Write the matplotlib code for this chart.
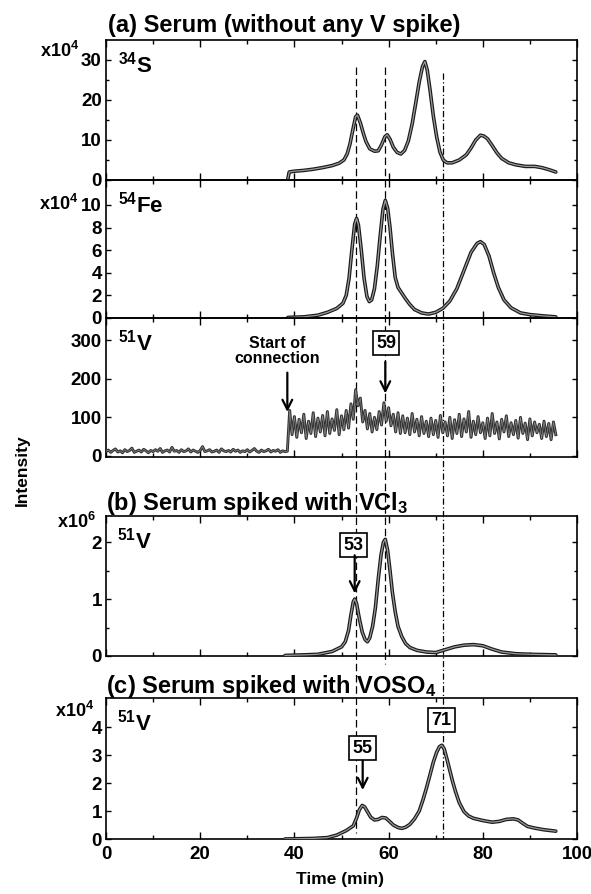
import numpy as np
import matplotlib
matplotlib.use('Agg')
import matplotlib.pyplot as plt
from matplotlib.lines import Line2D
from matplotlib.ticker import MultipleLocator, FixedLocator
from matplotlib.transforms import blended_transform_factory

plt.rcParams['font.family'] = ['Liberation Sans', 'DejaVu Sans']
plt.rcParams['font.weight'] = 'bold'
plt.rcParams['mathtext.fontset'] = 'custom'
plt.rcParams['mathtext.rm'] = 'Liberation Sans:bold'
plt.rcParams['mathtext.bf'] = 'Liberation Sans:bold'
plt.rcParams['mathtext.it'] = 'Liberation Sans:bold'

# (a) 34S, x10^4
s_time = [38.6, 38.9, 40, 42, 44, 46, 48, 49.5, 50.5, 51.2, 51.8, 52.4, 53.0, 53.4, 54.0, 54.6,
          55.2, 56.0, 57.0, 57.8, 58.5, 59.2, 59.7, 60.3, 61.0, 61.8, 62.6, 63.4, 64.2, 65.0,
          65.8, 66.5, 67.2, 67.7, 68.2, 68.8, 69.5, 70.2, 70.9, 71.6, 72.4, 73.5, 75.0, 76.5,
          77.5, 78.5, 79.5, 80.2, 81.0, 82.0, 83.0, 84.0, 85.5, 87.0, 89.0, 91.0, 92.5, 94.0, 95.5]
s_val = [0.2, 2.0, 2.2, 2.4, 2.7, 3.1, 3.6, 4.2, 5.0, 6.5, 9.0, 12.5, 15.8, 16.2, 14.3, 11.8,
         9.6, 7.8, 7.2, 7.3, 8.8, 10.8, 11.3, 10.2, 8.2, 6.9, 6.5, 7.4, 9.8, 14.0,
         19.5, 24.5, 28.4, 29.6, 27.5, 22.5, 16.0, 10.8, 7.0, 5.0, 4.3, 4.3, 5.0, 6.3,
         8.0, 10.0, 11.2, 11.0, 10.3, 8.6, 6.8, 5.4, 4.3, 3.8, 3.4, 3.4, 3.1, 2.6, 2.0]

# (a) 54Fe, x10^4
fe_time = [38.6, 42, 45, 47, 49, 50.3, 51.0, 51.6, 52.2, 52.8, 53.2, 53.6, 54.2, 54.8, 55.4,
           55.9, 56.4, 57.0, 57.6, 58.2, 58.8, 59.3, 59.8, 60.3, 60.8, 61.4, 62.0, 62.8, 63.6,
           64.5, 65.5, 67.0, 68.5, 70.0, 71.5, 73.0, 74.5, 76.0, 77.5, 78.8, 79.5, 80.3, 81.3,
           82.3, 83.3, 84.5, 86.0, 88.0, 90.0, 92.5, 95.5]
fe_val = [0.05, 0.1, 0.25, 0.5, 0.85, 1.3, 2.0, 3.5, 6.0, 8.3, 8.8, 8.2, 6.0, 3.5, 1.9,
          1.45, 1.6, 2.6, 4.6, 7.2, 9.6, 10.4, 9.7, 8.0, 5.8, 3.6, 2.7, 2.2, 1.7,
          1.2, 0.75, 0.45, 0.35, 0.5, 0.85, 1.5, 2.6, 4.2, 5.8, 6.6, 6.75, 6.5, 5.5,
          4.0, 2.7, 1.6, 0.9, 0.45, 0.3, 0.2, 0.1]

# (a) 51V, counts, sampled every 0.5 min
v_time = np.arange(0, 96, 0.5)
v_val = [12, 15, 9, 14, 18, 10, 13, 8, 16, 11, 14, 20, 9, 12, 15, 10, 17, 13, 8, 14,
         11, 16, 12, 19, 9, 13, 15, 10, 22, 12, 14, 9, 16, 11, 13, 18, 10, 15, 12, 9,
         14, 24, 11, 13, 16, 10, 12, 15, 9, 18, 13, 11, 14, 10, 17, 12, 15, 9, 13, 11,
         16, 10, 14, 19, 12, 9, 15, 11, 13, 17, 10, 14, 12, 16, 9, 13, 11, 12,
         118, 55, 102, 48, 95, 60, 108, 45, 90, 58, 112, 50,
         98, 62, 105, 52, 115, 58, 96, 66, 120, 55, 104, 68,
         118, 72, 135, 95, 172, 130,
         150, 88, 118, 70, 110, 62,
         100, 68, 115, 80, 138, 90,
         125, 78, 108, 62, 112, 58,
         104, 60, 98, 55, 110, 62, 95, 52, 102, 58, 90, 50,
         98, 55, 92, 48, 105, 60, 88, 52, 100, 45, 94, 58,
         108, 50, 96, 62, 115, 48, 90, 55, 102, 60, 86, 45,
         98, 52, 110, 58, 88, 44, 95, 62, 104, 50, 86, 55,
         92, 46, 100, 58, 85, 42, 96, 52, 88, 60, 82, 45,
         90, 50, 84, 42, 88, 55]

# (b) VCl3 spike, 51V x10^6
b_time = [38.0, 42, 45, 48, 50, 50.8, 51.5, 52.0, 52.5, 52.8, 53.2, 53.8, 54.4, 55.0, 55.5,
          56.0, 56.6, 57.2, 57.8, 58.4, 58.9, 59.3, 59.8, 60.3, 60.8, 61.4, 62.0, 62.8, 63.6,
          64.5, 66.0, 68.0, 70.0, 72.0, 74.0, 76.0, 78.0, 80.0, 82.0, 84.0, 87.0, 90.0, 95.5]
b_val = [0.01, 0.02, 0.03, 0.08, 0.16, 0.25, 0.45, 0.72, 0.95, 1.0, 0.92, 0.65, 0.42, 0.29, 0.25,
         0.32, 0.52, 0.85, 1.35, 1.78, 2.0, 2.05, 1.85, 1.5, 1.12, 0.78, 0.52, 0.34, 0.22,
         0.15, 0.1, 0.07, 0.06, 0.11, 0.16, 0.19, 0.2, 0.18, 0.12, 0.07, 0.04, 0.03, 0.02]

# (c) VOSO4 spike, 51V x10^4
c_time = [38.0, 44, 47, 49, 51, 52.5, 53.2, 53.8, 54.4, 54.9, 55.5, 56.2, 57.0, 57.8, 58.6,
          59.4, 60.2, 61.0, 62.0, 62.8, 63.6, 64.5, 65.5, 66.5, 67.3, 68.0, 68.8, 69.5, 70.2,
          70.8, 71.3, 71.8, 72.4, 73.0, 73.6, 74.2, 75.0, 76.0, 77.0, 78.0, 80.0, 82.0, 83.5,
          85.0, 86.5, 87.5, 88.5, 89.5, 91.0, 93.0, 95.5]
c_val = [0.0, 0.02, 0.05, 0.14, 0.3, 0.47, 0.75, 1.05, 1.2, 1.15, 0.98, 0.78, 0.68, 0.7, 0.77,
         0.75, 0.63, 0.5, 0.41, 0.38, 0.42, 0.52, 0.72, 1.0, 1.4, 1.8, 2.3, 2.75, 3.1,
         3.3, 3.35, 3.22, 2.85, 2.45, 2.05, 1.7, 1.3, 0.98, 0.82, 0.74, 0.66, 0.6, 0.63,
         0.7, 0.72, 0.68, 0.56, 0.45, 0.39, 0.33, 0.28]

marker_times = [53.0, 59.3, 71.5]

W, H = 591, 894
fig = plt.figure(figsize=(W / 100, H / 100), dpi=100)


def add_ax(top, bottom):
    ax = fig.add_axes([106 / W, 1 - bottom / H, 471 / W, (bottom - top) / H])
    ax.patch.set_visible(False)
    return ax


ax_s = add_ax(40, 180)
ax_fe = add_ax(180, 318)
ax_v = add_ax(318, 457)
ax_b = add_ax(516, 656)
ax_c = add_ax(698, 839)
axes = [ax_s, ax_fe, ax_v, ax_b, ax_c]


def trace(ax, x, y):
    ax.plot(x, y, color='#1a1a1a', lw=2.6, solid_capstyle='round', zorder=3)
    ax.plot(x, y, color='#9a9a9a', lw=0.9, zorder=4)


trace(ax_s, s_time, s_val)
trace(ax_fe, fe_time, fe_val)
ax_v.plot(v_time, v_val, color='#333333', lw=2.1, zorder=3)
ax_v.plot(v_time, v_val, color='#8a8a8a', lw=0.5, zorder=4)
trace(ax_b, b_time, b_val)
trace(ax_c, c_time, c_val)

ax_s.set_ylim(0, 35)
ax_fe.set_ylim(0, 12.2)
ax_v.set_ylim(-3, 358)
ax_b.set_ylim(0, 2.46)
ax_c.set_ylim(0, 5.04)

ax_s.yaxis.set_major_locator(FixedLocator([0, 10, 20, 30]))
ax_s.yaxis.set_minor_locator(FixedLocator([5, 15, 25]))
ax_fe.yaxis.set_major_locator(FixedLocator([0, 2, 4, 6, 8, 10]))
ax_v.yaxis.set_major_locator(FixedLocator([0, 100, 200, 300]))
ax_b.yaxis.set_major_locator(FixedLocator([0, 1, 2]))
ax_b.yaxis.set_minor_locator(FixedLocator([0.5, 1.5]))
ax_c.yaxis.set_major_locator(FixedLocator([0, 1, 2, 3, 4]))

for ax in axes:
    ax.set_xlim(0, 100)
    ax.xaxis.set_major_locator(MultipleLocator(20))
    ax.xaxis.set_minor_locator(MultipleLocator(10))
    ax.tick_params(which='both', direction='in', top=True, right=True, width=1.0)
    ax.tick_params(which='major', axis='x', length=5)
    ax.tick_params(which='minor', axis='x', length=3)
    ax.tick_params(which='major', axis='y', length=3.5, labelsize=13.5, pad=3)
    ax.tick_params(which='minor', axis='y', length=2.5)
    for sp in ax.spines.values():
        sp.set_linewidth(1.2)
    if ax is not ax_c:
        ax.tick_params(axis='x', labelbottom=False)

ax_c.tick_params(axis='x', labelsize=13.5, pad=5)
for lab in ax_c.get_xticklabels() + [l for a in axes for l in a.get_yticklabels()]:
    lab.set_fontweight('bold')


def ftext(x, y, s, **kw):
    fig.text(x / W, 1 - y / H, s, va='baseline', fontweight='bold', **kw)


ftext(108, 32, '(a) Serum (without any V spike)', fontsize=17)
ftext(106, 510, r'(b) Serum spiked with VCl$_3$', fontsize=17)
ftext(106, 693, r'(c) Serum spiked with VOSO$_4$', fontsize=17)

ftext(118, 72, r'$^{34}$S', fontsize=16)
ftext(118, 212, r'$^{54}$Fe', fontsize=16)
ftext(118, 350, r'$^{51}$V', fontsize=16)
ftext(117, 549, r'$^{51}$V', fontsize=16)
ftext(117, 730, r'$^{51}$V', fontsize=16)

ftext(40, 57, r'x10$^4$', fontsize=13)
ftext(39, 210, r'x10$^4$', fontsize=13)
ftext(57, 528, r'x10$^6$', fontsize=13)
ftext(55, 717, r'x10$^4$', fontsize=13)

fig.text(22 / W, 1 - 470 / H, 'Intensity', rotation=90, ha='center', va='center',
         fontsize=12.5, fontweight='bold')
fig.text(340 / W, 1 - 884 / H, 'Time (min)', ha='center', va='baseline',
         fontsize=12.5, fontweight='bold')

# reference lines through the stacked panels, kept behind curves and labels
tr = blended_transform_factory(ax_c.transData, fig.transFigure)
fig.add_artist(Line2D([marker_times[0]] * 2, [1 - 67 / H, 1 - 833 / H], transform=tr,
                      color='k', lw=0.9, dashes=(6, 3), zorder=-1))
fig.add_artist(Line2D([marker_times[1]] * 2, [1 - 67 / H, 1 - 664 / H], transform=tr,
                      color='k', lw=0.9, dashes=(6, 3), zorder=-1))
fig.add_artist(Line2D([marker_times[2]] * 2, [1 - 73 / H, 1 - 839 / H], transform=tr,
                      color='k', lw=0.9, dashes=(5, 2, 1, 2), zorder=-1))

arrow = dict(arrowstyle='->,head_length=0.7,head_width=0.35', lw=1.6, color='k',
             shrinkA=0, shrinkB=0)
box = dict(boxstyle='square,pad=0.18', fc='white', ec='k', lw=1.2)

ax_v.text(36.3, 271, 'Start of\nconnection', ha='center', va='center', fontsize=11.5,
          fontweight='bold', linespacing=1.0)
ax_v.annotate('', xy=(38.5, 114), xytext=(38.5, 216), arrowprops=arrow)
ax_v.text(59.5, 293, '59', ha='center', va='center', fontsize=13, fontweight='bold', bbox=box)
ax_v.annotate('', xy=(59.3, 162), xytext=(59.3, 244), arrowprops=arrow)

ax_b.text(52.6, 1.95, '53', ha='center', va='center', fontsize=13, fontweight='bold', bbox=box)
ax_b.annotate('', xy=(52.8, 1.1), xytext=(52.8, 1.77), arrowprops=arrow)

ax_c.text(54.5, 3.25, '55', ha='center', va='center', fontsize=13, fontweight='bold', bbox=box)
ax_c.annotate('', xy=(54.5, 1.75), xytext=(54.5, 2.8), arrowprops=arrow)
ax_c.text(71.2, 4.25, '71', ha='center', va='center', fontsize=13, fontweight='bold', bbox=box)

fig.savefig('out.png', dpi=100, facecolor='white')
